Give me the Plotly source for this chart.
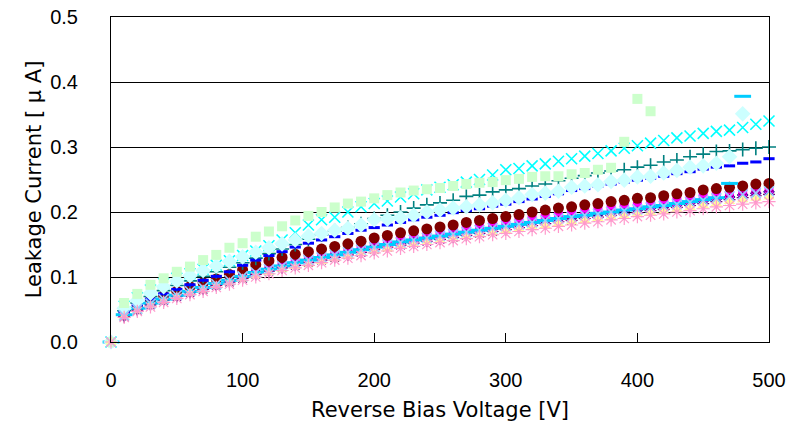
import plotly.graph_objects as go

# Reverse bias voltage steps [V]
voltage = list(range(0, 501, 10))

# Leakage current per sensor [uA]
navy_diamond = [
    0, 0.040, 0.050, 0.058, 0.065, 0.071, 0.077, 0.083, 0.088, 0.094,
    0.100, 0.106, 0.111, 0.116, 0.121, 0.125, 0.129, 0.133, 0.137, 0.141,
    0.145, 0.149, 0.152, 0.156, 0.159, 0.162, 0.165, 0.168, 0.171, 0.174,
    0.177, 0.180, 0.183, 0.186, 0.189, 0.191, 0.194, 0.196, 0.199, 0.201,
    0.203, 0.206, 0.208, 0.211, 0.214, 0.217, 0.220, 0.223, 0.226, 0.229,
    0.231]
magenta_square = [
    0, 0.042, 0.052, 0.060, 0.067, 0.073, 0.079, 0.085, 0.091, 0.097,
    0.103, 0.109, 0.115, 0.120, 0.125, 0.129, 0.133, 0.137, 0.141, 0.145,
    0.149, 0.153, 0.157, 0.160, 0.163, 0.166, 0.170, 0.173, 0.176, 0.179,
    0.182, 0.185, 0.188, 0.191, 0.194, 0.197, 0.199, 0.202, 0.204, 0.207,
    0.209, 0.211, 0.214, 0.216, 0.219, 0.222, 0.225, 0.228, 0.231, 0.234,
    0.236]
cyan_x = [
    0, 0.055, 0.068, 0.080, 0.090, 0.098, 0.105, 0.112, 0.118, 0.125,
    0.133, 0.140, 0.148, 0.157, 0.168, 0.180, 0.188, 0.192, 0.200, 0.208,
    0.213, 0.217, 0.223, 0.228, 0.234, 0.238, 0.242, 0.246, 0.250, 0.257,
    0.265, 0.267, 0.271, 0.274, 0.278, 0.282, 0.286, 0.290, 0.294, 0.298,
    0.302, 0.306, 0.310, 0.314, 0.317, 0.321, 0.324, 0.326, 0.330, 0.335,
    0.340]
purple_asterisk = [
    0, 0.039, 0.049, 0.057, 0.064, 0.070, 0.076, 0.081, 0.087, 0.092,
    0.098, 0.104, 0.109, 0.114, 0.118, 0.122, 0.126, 0.130, 0.134, 0.138,
    0.142, 0.146, 0.149, 0.152, 0.155, 0.158, 0.161, 0.164, 0.167, 0.170,
    0.173, 0.176, 0.179, 0.182, 0.185, 0.187, 0.190, 0.192, 0.195, 0.197,
    0.199, 0.202, 0.204, 0.207, 0.210, 0.213, 0.216, 0.219, 0.222, 0.225,
    0.227]
maroon_circle = [
    0, 0.045, 0.056, 0.064, 0.071, 0.078, 0.085, 0.091, 0.097, 0.104,
    0.111, 0.119, 0.125, 0.130, 0.135, 0.139, 0.143, 0.147, 0.151, 0.155,
    0.160, 0.164, 0.168, 0.171, 0.174, 0.177, 0.180, 0.184, 0.187, 0.190,
    0.193, 0.196, 0.200, 0.203, 0.206, 0.208, 0.211, 0.213, 0.216, 0.218,
    0.221, 0.222, 0.225, 0.228, 0.230, 0.234, 0.236, 0.238, 0.240, 0.243,
    0.244]
teal_plus = [
    0, 0.048, 0.060, 0.070, 0.079, 0.087, 0.094, 0.101, 0.108, 0.115,
    0.122, 0.129, 0.136, 0.143, 0.150, 0.158, 0.165, 0.171, 0.176, 0.182,
    0.190, 0.195, 0.200, 0.206, 0.211, 0.214, 0.218, 0.224, 0.226, 0.231,
    0.234, 0.236, 0.240, 0.243, 0.248, 0.252, 0.256, 0.260, 0.263, 0.265,
    0.269, 0.272, 0.277, 0.280, 0.285, 0.289, 0.293, 0.294, 0.296, 0.298,
    0.300]
blue_dash = [
    0, 0.046, 0.057, 0.066, 0.074, 0.081, 0.088, 0.095, 0.101, 0.108,
    0.118, 0.126, 0.133, 0.139, 0.146, 0.152, 0.157, 0.162, 0.167, 0.172,
    0.176, 0.180, 0.184, 0.188, 0.192, 0.195, 0.199, 0.202, 0.205, 0.209,
    0.212, 0.216, 0.220, 0.224, 0.228, 0.233, 0.236, 0.240, 0.243, 0.246,
    0.249, 0.252, 0.255, 0.259, 0.262, 0.266, 0.269, 0.271, 0.275, 0.277,
    0.282]
skyblue_dash = [
    0, 0.042, 0.052, 0.060, 0.066, 0.072, 0.078, 0.084, 0.090, 0.095,
    0.101, 0.107, 0.112, 0.117, 0.122, 0.126, 0.130, 0.134, 0.138, 0.142,
    0.146, 0.150, 0.154, 0.157, 0.160, 0.163, 0.166, 0.169, 0.172, 0.175,
    0.178, 0.181, 0.184, 0.187, 0.190, 0.193, 0.195, 0.198, 0.200, 0.203,
    0.205, 0.208, 0.210, 0.213, 0.216, 0.219, 0.222, 0.244, 0.378, None,
    None]
turquoise_diamond = [
    0, 0.052, 0.064, 0.075, 0.085, 0.094, 0.102, 0.110, 0.117, 0.124,
    0.131, 0.138, 0.145, 0.151, 0.157, 0.163, 0.167, 0.172, 0.175, 0.180,
    0.188, 0.189, 0.191, 0.195, 0.200, 0.203, 0.206, 0.208, 0.211, 0.214,
    0.218, 0.222, 0.227, 0.229, 0.232, 0.238, 0.240, 0.242, 0.247, 0.249,
    0.254, 0.255, 0.260, 0.264, 0.269, 0.271, 0.275, 0.285, 0.351, None,
    None]
green_square = [
    0, 0.060, 0.074, 0.088, 0.098, 0.108, 0.116, 0.126, 0.134, 0.145,
    0.152, 0.162, 0.170, 0.178, 0.187, 0.194, 0.200, 0.207, 0.213, 0.216,
    0.221, 0.226, 0.230, 0.233, 0.235, 0.237, 0.240, 0.243, 0.245, 0.246,
    0.249, 0.251, 0.254, 0.255, 0.255, 0.258, 0.260, 0.265, 0.268, 0.308,
    0.374, 0.355, None, None, None, None, None, None, None, None,
    None]
yellow_triangle = [
    0, 0.039, 0.048, 0.056, 0.063, 0.069, 0.075, 0.080, 0.086, 0.091,
    0.097, 0.102, 0.107, 0.112, 0.116, 0.120, 0.124, 0.128, 0.132, 0.136,
    0.140, 0.143, 0.147, 0.150, 0.153, 0.156, 0.159, 0.162, 0.165, 0.168,
    0.171, 0.174, 0.177, 0.179, 0.182, 0.185, 0.187, 0.190, 0.192, 0.194,
    0.197, 0.199, 0.201, 0.204, 0.207, 0.210, 0.213, 0.216, 0.219, 0.221,
    0.223]
paleblue_x = [
    0, 0.041, 0.051, 0.059, 0.066, 0.072, 0.078, 0.084, 0.089, 0.095,
    0.101, 0.107, 0.112, 0.117, 0.122, 0.126, 0.130, 0.134, 0.138, 0.142,
    0.146, 0.150, 0.153, 0.157, 0.160, 0.163, 0.166, 0.169, 0.172, 0.175,
    0.178, 0.181, 0.184, 0.187, 0.190, 0.192, 0.195, 0.197, 0.200, 0.202,
    0.204, 0.207, 0.209, 0.212, 0.215, 0.218, 0.221, 0.224, 0.227, 0.229,
    0.232]
rose_asterisk = [
    0, 0.038, 0.047, 0.054, 0.061, 0.067, 0.073, 0.078, 0.084, 0.089,
    0.095, 0.100, 0.105, 0.110, 0.114, 0.118, 0.122, 0.126, 0.129, 0.133,
    0.137, 0.140, 0.144, 0.147, 0.150, 0.153, 0.156, 0.159, 0.162, 0.165,
    0.167, 0.170, 0.173, 0.175, 0.178, 0.180, 0.183, 0.185, 0.188, 0.190,
    0.193, 0.195, 0.197, 0.200, 0.202, 0.205, 0.208, 0.210, 0.212, 0.214,
    0.216]

# (values, symbol, size, colour, outline width for open symbols)
series = [
    (navy_diamond, "diamond", 9, "#000080", None),
    (magenta_square, "square", 9, "#FF00FF", None),
    (cyan_x, "x-thin-open", 11, "#00FFFF", 1.6),
    (purple_asterisk, "asterisk-open", 10, "#800080", 1.2),
    (maroon_circle, "circle", 11, "#800000", None),
    (teal_plus, "cross-thin-open", 10, "#008080", 1.6),
    (blue_dash, "line-ew-open", 8, "#0000FF", 3),
    (skyblue_dash, "line-ew-open", 12, "#00CCFF", 3),
    (turquoise_diamond, "diamond", 12, "#CCFFFF", None),
    (green_square, "square", 10, "#CCFFCC", None),
    (yellow_triangle, "triangle-up", 10, "#FFFF99", None),
    (paleblue_x, "x-thin-open", 10, "#99CCFF", 1.6),
    (rose_asterisk, "asterisk-open", 11, "#FF99CC", 1.2),
]

fig = go.Figure()
for values, symbol, size, colour, lw in series:
    marker = dict(symbol=symbol, size=size, color=colour)
    if lw is not None:
        marker["line"] = dict(color=colour, width=lw)
    else:
        marker["line"] = dict(width=0)
    fig.add_trace(go.Scatter(
        x=voltage, y=values, mode="markers", marker=marker,
        cliponaxis=False, showlegend=False,
    ))

tick_font = dict(family="Liberation Sans, Arial, sans-serif", size=20, color="black")
title_font = dict(family="DejaVu Sans, sans-serif", size=21, color="black")

fig.update_layout(
    width=792, height=431,
    margin=dict(l=111, r=23, t=17, b=89),
    paper_bgcolor="white", plot_bgcolor="white",
    xaxis=dict(
        range=[0, 500], dtick=100, tick0=0, automargin=False,
        showgrid=False, zeroline=False,
        showline=True, linecolor="black", linewidth=1, mirror=True,
        ticks="inside", ticklen=9, tickcolor="black",
        tickfont=tick_font, ticklabelstandoff=20,
        title=dict(text="Reverse Bias Voltage [V]", font=title_font, standoff=12),
    ),
    yaxis=dict(
        range=[0, 0.5], dtick=0.1, tick0=0, tickformat=".1f", automargin=False,
        showgrid=True, gridcolor="black", gridwidth=1, zeroline=False,
        showline=True, linecolor="black", linewidth=1, mirror=True,
        ticks="", tickfont=tick_font, ticklabelstandoff=28,
        title=dict(text="Leakage Current [ μ A]", font=title_font, standoff=2),
    ),
)

fig.write_html("out.html")
